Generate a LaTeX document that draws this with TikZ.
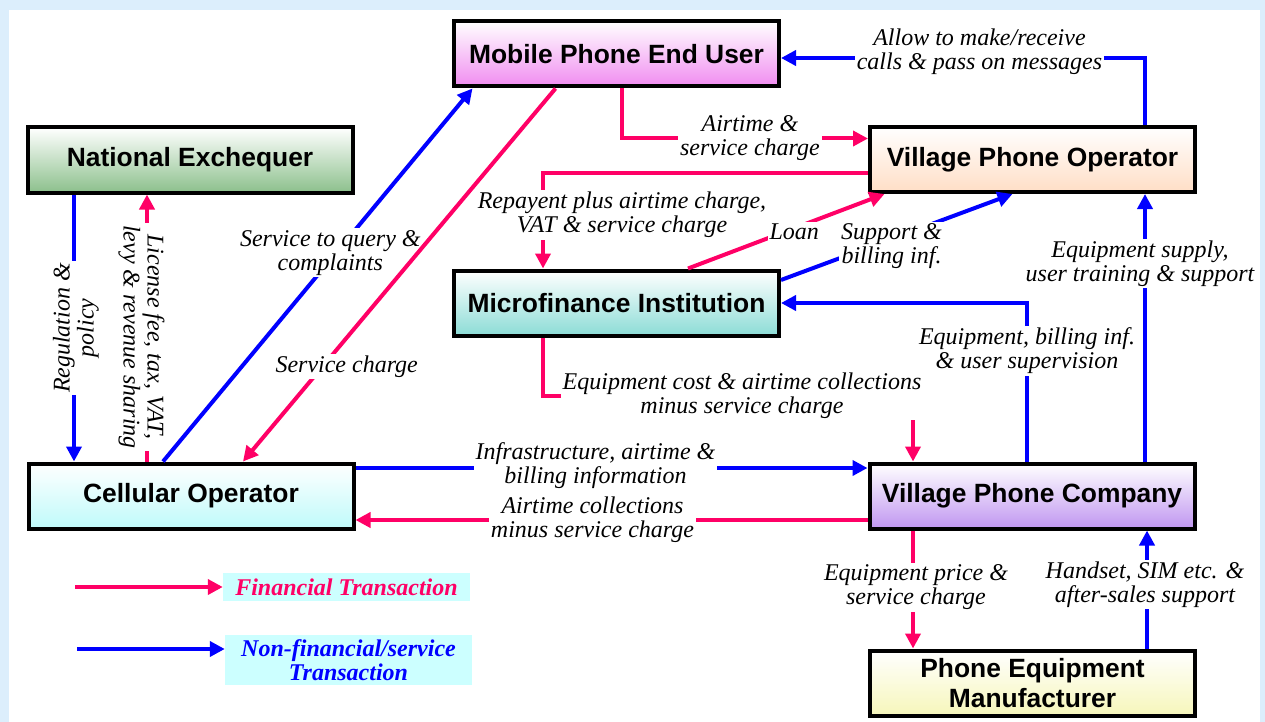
\documentclass[tikz,border=0pt]{standalone}
\usepackage{fontspec}
\setmainfont{Liberation Serif}
\setsansfont{Liberation Sans}
\usetikzlibrary{positioning, calc, arrows.meta}
\definecolor{finred}{RGB}{255,0,102}
\definecolor{svcblue}{RGB}{0,0,255}
\definecolor{legfill}{RGB}{204,255,255}
\definecolor{pagebg}{RGB}{220,238,252}
\definecolor{nexgreen}{RGB}{140,192,140}
\definecolor{userpink}{RGB}{240,140,240}
\definecolor{vpopeach}{RGB}{255,222,198}
\definecolor{mfiteal}{RGB}{140,220,214}
\definecolor{cellcyan}{RGB}{190,250,250}
\definecolor{vpclilac}{RGB}{192,150,240}
\definecolor{pemyellow}{RGB}{246,246,186}
\tikzset{
  actor/.style={draw=black,line width=4pt,minimum width=325pt,minimum height=65pt,
    top color=white,inner sep=2pt,align=center,
    font=\sffamily\bfseries\fontsize{26.4}{30}\selectfont},
  fin/.style={draw=finred,line width=4pt,-{Triangle[length=15pt,width=15pt]}},
  svc/.style={draw=svcblue,line width=4pt,-{Triangle[length=15pt,width=15pt]}},
  lbl/.style={font=\itshape\fontsize{24}{24}\selectfont,fill=white,inner sep=2pt,
    align=center,text=black},
  legbox/.style={fill=legfill,minimum width=247pt,inner sep=2pt,align=center,
    font=\bfseries\itshape\fontsize{24}{23.5}\selectfont},
}
\begin{document}
\begin{tikzpicture}[x=1pt,y=-1pt]
  \useasboundingbox (0,0) rectangle (1265,722);
  \fill[pagebg] (0,0) rectangle (1265,722);
  \fill[white] (9,10) rectangle (1260,722);

  \node[actor,bottom color=nexgreen] (nex) at (190,160) {National Exchequer};
  \node[actor,bottom color=userpink] (user) at (616.5,54) {Mobile Phone End User};
  \node[actor,bottom color=vpopeach] (vpo) at (1032.5,159.5) {Village Phone Operator};
  \node[actor,bottom color=mfiteal] (mfi) at (616.5,303) {Microfinance Institution};
  \node[actor,bottom color=cellcyan] (cell) at (191,496) {Cellular Operator};
  \node[actor,bottom color=vpclilac] (vpc) at (1032,496) {Village Phone Company};
  \node[actor,bottom color=pemyellow] (pem) at (1032.5,683) {Phone Equipment\\Manufacturer};

  \draw[svc] ([xshift=-116pt]nex.south) -- ([xshift=-117pt]cell.north)
    node[lbl,midway,xshift=2pt,rotate=90] {Regulation \&\\policy};
  \draw[fin] ([xshift=-44pt]cell.north) -- ([xshift=-43pt]nex.south)
    node[lbl,midway,xshift=-5.5pt,yshift=-9pt,rotate=-90] {License fee, tax, VAT,\\levy \& revenue sharing};
  \draw[svc] ([xshift=-28pt]cell.north) -- ([xshift=-144pt]user.south)
    node[lbl,pos=0.56,xshift=-6pt] {Service to query \&\\complaints};
  \draw[fin] ([xshift=-61pt]user.south) -- ([xshift=52pt]cell.north)
    node[lbl,pos=0.745,xshift=24pt] {Service charge};
  \draw[fin] ([xshift=5.5pt]user.south) |- ([yshift=21pt]vpo.west)
    node[lbl,pos=0.76] {Airtime \&\\service charge};
  \draw[svc] ([xshift=112pt]vpo.north) |- ([yshift=-4pt]user.east)
    node[lbl,pos=0.727,yshift=6pt] {Allow to make/receive\\calls \& pass on messages};
  \draw[fin] ([yshift=-13.5pt]vpo.west) -| ([xshift=-73.5pt]mfi.north)
    node[lbl,pos=0.72,xshift=79pt] {Repayent plus airtime charge,\\VAT \& service charge};
  \draw[fin] ([xshift=71.5pt]mfi.north) -- ([xshift=-148pt]vpo.south)
    node[lbl,pos=0.5,xshift=8pt,yshift=-1pt] {Loan};
  \draw[svc] ([yshift=23pt]mfi.east) -- ([xshift=-20pt]vpo.south)
    node[lbl,pos=0.46,xshift=4pt,yshift=-6pt] {Support \&\\billing inf.};
  \draw[svc] ([xshift=-5pt]vpc.north) |- (mfi.east)
    node[lbl,pos=0.35] {Equipment, billing inf.\\\& user supervision};
  \draw[svc] ([xshift=113pt]vpc.north) -- ([xshift=112.5pt]vpo.south)
    node[lbl,pos=0.74,xshift=-5pt] {Equipment supply,\\user training \& support};
  \draw[fin] ([xshift=-73.5pt]mfi.south) |- ([xshift=-119pt,yshift=66pt]vpc.north)
    node[lbl,pos=0.75,xshift=14pt] {Equipment cost \& airtime collections\\minus service charge}
    -- ([xshift=-119pt]vpc.north);
  \draw[svc] ([yshift=28pt]cell.east) -- ([yshift=28pt]vpc.west)
    node[lbl,midway,xshift=-16pt,yshift=2pt] {Infrastructure, airtime \&\\billing information};
  \draw[fin] ([yshift=-24pt]vpc.west) -- ([yshift=-24pt]cell.east)
    node[lbl,midway,xshift=-19pt] {Airtime collections\\minus service charge};
  \draw[fin] ([xshift=-119pt]vpc.south) -- ([xshift=-119.5pt]pem.north)
    node[lbl,midway,xshift=3pt,yshift=2pt] {Equipment price \&\\service charge};
  \draw[svc] ([xshift=114.5pt]pem.north) -- ([xshift=115pt]vpc.south)
    node[lbl,midway,xshift=-2pt,yshift=5pt] {Handset, SIM etc. \&\\after-sales support};

  % legend
  \node[legbox,text=finred,minimum height=28pt] (legfin) at (346.5,587) {Financial Transaction};
  \node[legbox,text=svcblue,minimum height=50pt] (legsvc) at (348.5,660) {Non-financial/service\\Transaction};
  \coordinate (finstart) at (75,587);
  \coordinate (svcstart) at (77,649);
  \draw[fin] (finstart) -- (legfin.west);
  \draw[svc] (svcstart) -- (legsvc.west |- svcstart);
\end{tikzpicture}
\end{document}
